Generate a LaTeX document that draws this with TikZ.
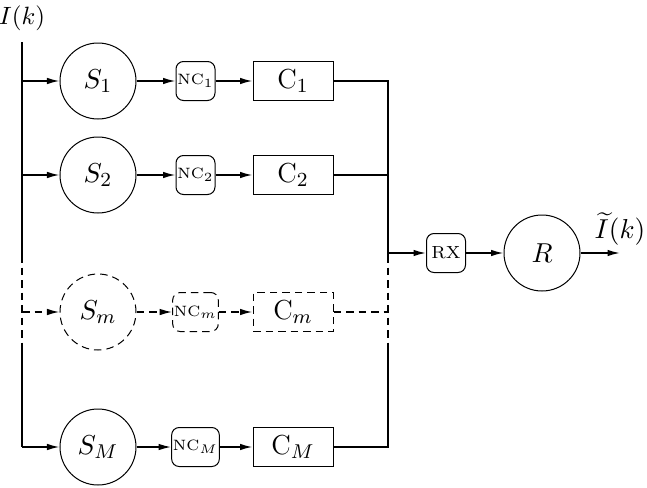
\documentclass[tikz,border=0pt]{standalone}
\usepackage{amsmath}
\usetikzlibrary{arrows.meta}
\begin{document}
\begin{tikzpicture}[x=0.4pt,y=-0.4pt,
  src/.style={draw,circle,minimum size=30.4pt,inner sep=0pt,font=\fontsize{11}{13}\selectfont},
  nc/.style={draw,rounded corners=3pt,minimum width=15.6pt,minimum height=15.6pt,inner sep=0.5pt,font=\fontsize{6}{7}\selectfont},
  chan/.style={draw,minimum width=32pt,minimum height=15.6pt,inner sep=0pt,font=\fontsize{11}{13}\selectfont},
  wire/.style={semithick},
  feed/.style={semithick,-{Latex[length=5pt,width=2.6pt]}},
  dots/.style={dash pattern=on 3pt off 2pt}]
  \useasboundingbox (0,0) rectangle (647,487);
  % Input line
  \node[inner sep=0pt] (in) at (22,18) {$I(k)$};
  \coordinate (ltop) at (22,42);
  \coordinate (l1) at (22,81);
  \coordinate (l2) at (22,175);
  \coordinate (lda) at (22,255);
  \coordinate (lm) at (22,312);
  \coordinate (ldb) at (22,347);
  \coordinate (lM) at (22,447);
  % Branch 1
  \node[src] (s1) at (98,81) {$S_1$};
  \node[nc] (nc1) at (195.5,81) {NC$_1$};
  \node[chan] (c1) at (293,81) {C$_1$};
  % Branch 2
  \node[src] (s2) at (98,175) {$S_2$};
  \node[nc] (nc2) at (195.5,175) {NC$_2$};
  \node[chan] (c2) at (293,175) {C$_2$};
  % Branch m
  \node[src,dots] (sm) at (98,312) {$S_m$};
  \node[nc,dots] (ncm) at (195.5,312) {NC$_m$};
  \node[chan,dots] (cm) at (293,312) {C$_m$};
  % Branch M
  \node[src] (sM) at (98,447) {$S_M$};
  \node[nc] (ncM) at (195.5,447) {NC$_M$};
  \node[chan] (cM) at (293,447) {C$_M$};
  % Output line
  \coordinate (r1) at (388,81);
  \coordinate (r2) at (388,175);
  \coordinate (rj) at (388,253);
  \coordinate (rda) at (388,255);
  \coordinate (rm) at (388,312);
  \coordinate (rdb) at (388,347);
  \coordinate (rM) at (388,447);
  \node[nc,font=\scriptsize] (rx) at (446,253) {RX};
  \node[src] (rcv) at (542,253) {$R$};
  \coordinate (out) at (620,253);
  \node[inner sep=0pt,font=\fontsize{11}{13}\selectfont] (outl) at (620,229) {$\widetilde{I}(k)$};
  % Left bus
  \draw[wire] (ltop) -- (l1) -- (l2) -- (lda);
  \draw[wire,dots] (lda) -- (ldb);
  \draw[wire] (ldb) -- (lM);
  \draw[feed] (l1) -- (s1);
  \draw[feed] (l2) -- (s2);
  \draw[feed,dots] (lm) -- (sm);
  \draw[feed] (lM) -- (sM);
  % Branch arrows
  \draw[feed] (s1) -- (nc1);
  \draw[feed] (nc1) -- (c1);
  \draw[feed] (s2) -- (nc2);
  \draw[feed] (nc2) -- (c2);
  \draw[feed,dots] (sm) -- (ncm);
  \draw[feed,dots] (ncm) -- (cm);
  \draw[feed] (sM) -- (ncM);
  \draw[feed] (ncM) -- (cM);
  % Right bus
  \draw[wire] (c1) -- (r1) -- (r2) -- (rda);
  \draw[wire] (c2) -- (r2);
  \draw[wire,dots] (cm) -- (rm);
  \draw[wire,dots] (rda) -- (rdb);
  \draw[wire] (rdb) -- (rM) -- (cM);
  \draw[feed] (rj) -- (rx);
  \draw[feed] (rx) -- (rcv);
  \draw[feed] (rcv) -- (out);
\end{tikzpicture}
\end{document}
